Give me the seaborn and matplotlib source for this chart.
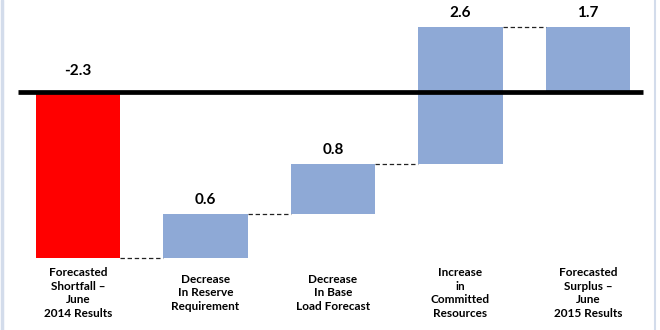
import matplotlib
matplotlib.use("Agg")
import matplotlib.pyplot as plt
from matplotlib.lines import Line2D
import seaborn as sns
import pandas as pd

# ---- data ----
categories = [
    "Forecasted\nShortfall \u2013\nJune\n2014 Results",
    "Decrease\nIn Reserve\nRequirement",
    "Decrease\nIn Base\nLoad Forecast",
    "Increase\nin\nCommitted\nResources",
    "Forecasted\nSurplus \u2013\nJune\n2015 Results",
]
value_labels = ["-2.3", "0.6", "0.8", "2.6", "1.7"]
# bar extents as drawn in the picture (start, end)
bar_starts = [0.0, -2.3, -1.69, -1.0, 0.0]
bar_ends = [-2.3, -1.69, -1.0, 0.9, 0.9]
bar_colors = ["#FF0000", "#8EA9D6", "#8EA9D6", "#8EA9D6", "#8EA9D6"]

sns.set_theme(style="white")
plt.rcParams["font.family"] = ["Lato", "DejaVu Sans"]

fig = plt.figure(figsize=(6.6, 3.3), dpi=100)
ax = fig.add_axes([0, 0, 1, 1])

df = pd.DataFrame({
    "cat": [str(i) for i in range(len(categories))],
    "h": [e - s for s, e in zip(bar_starts, bar_ends)],
})
bw = 0.659
sns.barplot(data=df, x="cat", y="h", hue="cat", palette=bar_colors,
            width=bw, legend=False, ax=ax, linewidth=0, saturation=1)

# turn heights into floating waterfall segments
for p, s, e, c in zip(ax.patches, bar_starts, bar_ends, bar_colors):
    p.set_y(min(s, e))
    p.set_height(abs(e - s))
    p.set_facecolor(c)
    p.set_edgecolor("none")

# pixel mapping: x_px = 78 + 127.5*x ; y_px = 92 - 72.2*v
ax.set_xlim(-78 / 127.5, (660 - 78) / 127.5)
ax.set_ylim((92 - 330) / 72.2, 92 / 72.2)
ax.axis("off")

# baseline
ax.plot([(18 - 78) / 127.5, (643 - 78) / 127.5], [0, 0], color="black",
        lw=3.4, solid_capstyle="butt", zorder=5)

# connectors
for i in range(len(bar_ends) - 1):
    lvl = bar_ends[i]
    ax.plot([i + bw / 2, i + 1 - bw / 2], [lvl, lvl], color="#222222",
            lw=0.9, ls=(0, (3.5, 2.2)), zorder=4)

# value labels
for i, (s, e, t) in enumerate(zip(bar_starts, bar_ends, value_labels)):
    top = max(s, e)
    off = 21 if top == 0 and e < 0 else 14
    ax.annotate(t, (i, top), xytext=(0, off * 0.72), textcoords="offset points",
                ha="center", va="center", fontsize=11, fontweight="bold",
                color="black")

# category labels
for i, c in enumerate(categories):
    ax.text(i, (92 - 293) / 72.2, c, ha="center", va="center",
            fontsize=8.5, fontweight="bold", color="black", linespacing=1.28)

# thin frame strips
fig.add_artist(Line2D([0.003, 0.003], [0, 1], transform=fig.transFigure,
                      color="#D3DCEB", lw=2.5))
fig.add_artist(Line2D([0.993, 0.993], [0, 1], transform=fig.transFigure,
                      color="#D3DCEB", lw=1.5))

fig.savefig("out.png", dpi=100)
